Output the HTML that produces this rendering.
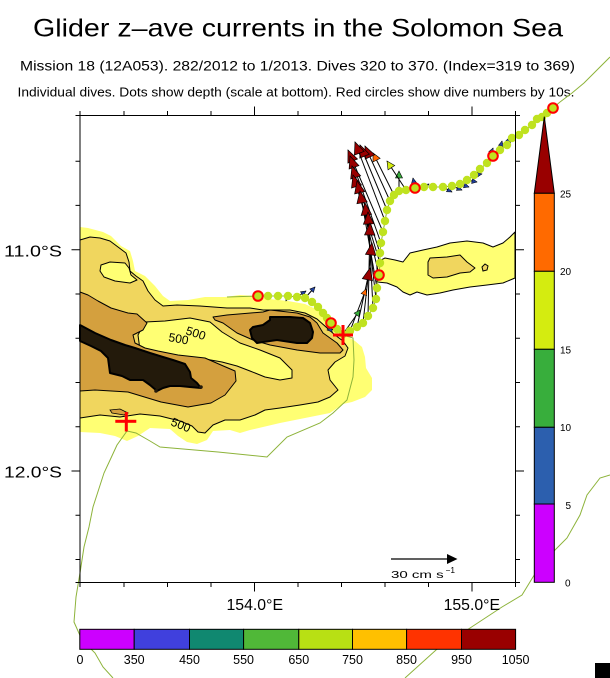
<!DOCTYPE html>
<html><head><meta charset="utf-8"><style>html,body{margin:0;padding:0;background:#fff;}svg{display:block}</style></head>
<body>
<svg width="610" height="678" viewBox="0 0 610 678" xmlns="http://www.w3.org/2000/svg" font-family="'Liberation Sans', sans-serif">
<defs>
<marker id="mdr" markerUnits="userSpaceOnUse" viewBox="-13 -6 14 12" markerWidth="14" markerHeight="12" refX="0" refY="0" orient="auto" overflow="visible"><path d="M0,0L-12,-5.2L-12,5.2Z" fill="#990000" stroke="#000" stroke-width="0.7"/></marker>
<marker id="mor" markerUnits="userSpaceOnUse" viewBox="-10 -5 11 10" markerWidth="11" markerHeight="10" refX="0" refY="0" orient="auto" overflow="visible"><path d="M0,0L-8,-4L-8,4Z" fill="#FF6600" stroke="#000" stroke-width="0.6"/></marker>
<marker id="myl" markerUnits="userSpaceOnUse" viewBox="-10 -5 11 10" markerWidth="11" markerHeight="10" refX="0" refY="0" orient="auto" overflow="visible"><path d="M0,0L-8,-4L-8,4Z" fill="#D4EC10" stroke="#000" stroke-width="0.6"/></marker>
<marker id="mgr" markerUnits="userSpaceOnUse" viewBox="-9 -5 10 10" markerWidth="10" markerHeight="10" refX="0" refY="0" orient="auto" overflow="visible"><path d="M0,0L-7,-3.5L-7,3.5Z" fill="#38AE3C" stroke="#000" stroke-width="0.6"/></marker>
<marker id="mor2" markerUnits="userSpaceOnUse" viewBox="-8 -4 9 8" markerWidth="9" markerHeight="8" refX="0" refY="0" orient="auto" overflow="visible"><path d="M0,0L-6,-3L-6,3Z" fill="#FF6600" stroke="#000" stroke-width="0.5"/></marker>
<marker id="mgr2" markerUnits="userSpaceOnUse" viewBox="-8 -4 9 8" markerWidth="9" markerHeight="8" refX="0" refY="0" orient="auto" overflow="visible"><path d="M0,0L-6,-3L-6,3Z" fill="#38AE3C" stroke="#000" stroke-width="0.5"/></marker>
<marker id="mbl" markerUnits="userSpaceOnUse" viewBox="-7 -4 8 8" markerWidth="8" markerHeight="8" refX="0" refY="0" orient="auto" overflow="visible"><path d="M0,0L-5,-2.5L-5,2.5Z" fill="#2040A0" stroke="#000" stroke-width="0.5"/></marker>
</defs>

<!-- Titles -->
<text x="33" y="36.7" font-size="25" textLength="530" lengthAdjust="spacingAndGlyphs">Glider z–ave currents in the Solomon Sea</text>
<text x="20" y="70.7" font-size="13.5" textLength="555" lengthAdjust="spacingAndGlyphs">Mission 18 (12A053). 282/2012 to 1/2013. Dives 320 to 370. (Index=319 to 369)</text>
<text x="17.5" y="96.7" font-size="12.8" textLength="557" lengthAdjust="spacingAndGlyphs">Individual dives. Dots show depth (scale at bottom). Red circles show dive numbers by 10s.</text>

<!-- Bathymetry -->
<polygon fill="#FFFF73" points="80,227 88,228 103,232 111,236 121,246 130,251 133,261 135,271 145,276 155,286 163,296 170,301 188,300 205,297 225,297 240,295 255,296 270,299 288,301 305,304 318,310 328,318 336,327 345,335 355,341 362,347 365,357 366,368 372,378 372,390 365,397 352,402 343,404 330,413 310,417 280,423 250,430 240,433 230,430 213,431 207,440 197,444 187,442 178,436 170,429 150,428 138,436 127,441 115,436 100,433 80,432"/>
<polygon fill="#F0D65E" stroke="#000" stroke-width="1" stroke-linejoin="round" points="80,240 90,237 100,238 110,241 118,247 126,253 129,262 130,271 136,276 143,281 148,291 155,300 163,306 177,305 200,306 227,308 250,308 263,310 290,310 305,313 317,319 326,327 335,335 343,341 348,348 345,356 335,362 328,370 330,380 338,390 330,397 318,402 300,405 280,408 265,410 255,415 240,420 225,420 213,425 205,433 198,432 192,426 180,421 160,416 140,414 120,417 100,415 80,418"/>
<polygon fill="#FFFF73" stroke="#000" stroke-width="1" stroke-linejoin="round" points="101,265 110,262 125,263 129,268 131,275 137,280 130,283 115,281 104,277 100,271"/>
<polygon fill="#FFFF73" stroke="#000" stroke-width="1" stroke-linejoin="round" points="145,322 165,321 190,318 210,322 222,332 240,343 260,350 280,358 292,370 292,378 280,380 265,377 250,371 237,366 222,362 205,359 180,356 160,353 140,350 138,335"/>
<polygon fill="#D4A03E" stroke="#000" stroke-width="1" stroke-linejoin="round" points="80,292 88,295 98,301 111,308 128,313 137,314 147,323 143,330 133,335 135,343 145,348 158,351 178,355 205,358 221,365 235,371 236,381 225,395 211,403 188,407 161,402 128,392 95,390 80,391"/>
<polygon fill="#D4A03E" stroke="#000" stroke-width="1" stroke-linejoin="round" points="213,317 227,315 263,312 270,310 297,313 310,317 317,323 323,333 337,343 343,350 340,353 320,353 297,350 270,345 253,340 237,333 223,323 215,320"/>
<polygon fill="#D4A03E" stroke="#000" stroke-width="0.8" points="110,410 120,409 128,413 124,415 112,413"/>
<polygon fill="#231A0B" stroke="#000" stroke-width="2" stroke-linejoin="round" points="80,325 95,333 111,340 125,345 135,348 150,353 163,357 173,360 185,364 190,372 191,378 197,383 201,388 190,387 180,386 170,386 163,388 157,391 150,385 143,380 130,380 122,376 110,373 108,358 101,351 91,346 80,341"/>
<circle cx="156" cy="391" r="1.8" fill="#231A0B"/>
<circle cx="201" cy="387" r="1.8" fill="#231A0B"/>
<polygon fill="#231A0B" stroke="#000" stroke-width="2" stroke-linejoin="round" points="250,330 253,327 263,325 270,320 270,317 290,317 303,318 310,323 313,332 312,338 307,343 297,343 277,340 263,342 257,343 252,338"/>
<!-- east blob -->
<polygon fill="#FFFF73" stroke="#000" stroke-width="1" stroke-linejoin="round" points="377,262 385,258 395,260 403,262 410,253 423,250 437,247 450,243 467,241 483,243 493,247 503,243 510,237 515,232 515,278 503,283 487,285 470,287 453,290 440,293 427,295 417,292 410,295 403,292 397,287 387,283 377,282"/>
<polygon fill="#F0D65E" stroke="#000" stroke-width="1" stroke-linejoin="round" points="428,262 430,258 447,257 460,255 467,262 475,268 470,272 460,273 447,277 433,278 428,275"/>
<polygon fill="#F0D65E" stroke="#000" stroke-width="1" points="482,267 485,264 488,266 487,270 483,271"/>

<!-- contour labels -->
<g font-size="12" fill="#000">
<text x="185" y="334" transform="rotate(18 185 334)">500</text>
<text x="168" y="341" transform="rotate(10 168 341)">500</text>
<text x="170" y="425" transform="rotate(22 170 425)">500</text>
</g>

<!-- thin mission track -->
<g fill="none" stroke="#8DB33A" stroke-width="1">
<path d="M610,57L595,72L584,83L572,93L560,102L553,108L547,113L542,117L537,119L532,125L525,130L519,135L512,138L507,145L500,150L493,156L487,163L480,169L474,175L467,180L460,184L452,186L443,187L433,187L424,187L415,188L406,190L399,191L394,195L390,201L387,210L385,221L383,232L381,243L380,253L380,263L379,275L377,288L376,299L373,308L368,316L363,323L357,327L350,331L343,334L337,329L331,323L327,318L323,313L318,307L312,302L305,298L297,297L288,296L278,296L268,296L258,296L227,297"/>
<path d="M343,335L353,338L354,360L353,377L347,400L333,413L320,423L287,437L267,457L218,452L160,447L150,441L136,433L127,431L126,422M127,431L117,445L111,458L104,473L93,507L89,527L84,547L80,573L76,597L74,622L82,640L95,653L103,667L113,678"/>
<path d="M610,475L600,478L587,495L580,515L567,538L555,550L543,562L533,577L522,595L502,607L467,630L436,650L405,678"/>
</g>

<!-- vectors -->
<g stroke="#000" stroke-width="1" fill="none">
<path d="M399,191L399,171" marker-end="url(#mgr)"/>
<path d="M406,190L387,161" marker-end="url(#myl)"/>
<path d="M394,195L373,153" marker-end="url(#mor)"/>
<path d="M390,201L365,146" marker-end="url(#mdr)"/>
<path d="M387,210L360,145" marker-end="url(#mdr)"/>
<path d="M385,221L355,142" marker-end="url(#mdr)"/>
<path d="M383,232L348,150" marker-end="url(#mdr)"/>
<path d="M381,243L350,156" marker-end="url(#mdr)"/>
<path d="M380,253L352,166" marker-end="url(#mdr)"/>
<path d="M380,263L353,175" marker-end="url(#mdr)"/>
<path d="M379,275L357,181" marker-end="url(#mdr)"/>
<path d="M377,288L360,191" marker-end="url(#mdr)"/>
<path d="M376,299L365,203" marker-end="url(#mdr)"/>
<path d="M373,308L368,212" marker-end="url(#mdr)"/>
<path d="M368,316L370,223" marker-end="url(#mdr)"/>
<path d="M363,323L372,243" marker-end="url(#mdr)"/>
<path d="M357,327L370,268" marker-end="url(#mdr)"/>
<path d="M350,331L366,289" marker-end="url(#mor2)"/>
<path d="M343,334L360,310" marker-end="url(#mgr2)"/>
<path d="M337,329L327,330" marker-end="url(#mbl)"/>
<path d="M415,188L413,178" marker-end="url(#mbl)"/>
<path d="M424,187L429,184" marker-end="url(#mbl)"/>
<path d="M443,187L452,192" marker-end="url(#mbl)"/>
<path d="M452,186L462,190" marker-end="url(#mbl)"/>
<path d="M460,184L469,187" marker-end="url(#mbl)"/>
<path d="M467,180L477,182" marker-end="url(#mbl)"/>
<path d="M474,175L482,174" marker-end="url(#mbl)"/>
<path d="M487,163L493,148" marker-end="url(#mbl)"/>
<path d="M500,150L502,141" marker-end="url(#mbl)"/>
<path d="M507,145L510,137" marker-end="url(#mbl)"/>
<path d="M297,297L306,291" marker-end="url(#mbl)"/>
<path d="M305,298L315,287" marker-end="url(#mbl)"/>
<path d="M288,296L286,301" marker-end="url(#mgr2)"/>
</g>

<!-- dots -->
<g fill="#BFE21F">
<circle cx="268" cy="296" r="4.2"/><circle cx="278" cy="296" r="4.2"/><circle cx="288" cy="296" r="4.2"/><circle cx="297" cy="297" r="4.2"/><circle cx="305" cy="298" r="4.2"/><circle cx="312" cy="302" r="4.2"/><circle cx="318" cy="307" r="4.2"/><circle cx="323" cy="313" r="4.2"/><circle cx="327" cy="318" r="4.2"/>
<circle cx="337" cy="329" r="4.2"/><circle cx="343" cy="334" r="4.2"/><circle cx="350" cy="331" r="4.2"/><circle cx="357" cy="327" r="4.2"/><circle cx="363" cy="323" r="4.2"/><circle cx="368" cy="316" r="4.2"/><circle cx="373" cy="308" r="4.2"/><circle cx="376" cy="299" r="4.2"/><circle cx="377" cy="288" r="4.2"/>
<circle cx="380" cy="263" r="4.2"/><circle cx="380" cy="253" r="4.2"/><circle cx="381" cy="243" r="4.2"/><circle cx="383" cy="232" r="4.2"/><circle cx="385" cy="221" r="4.2"/><circle cx="387" cy="210" r="4.2"/><circle cx="390" cy="201" r="4.2"/><circle cx="394" cy="195" r="4.2"/><circle cx="399" cy="191" r="4.2"/><circle cx="406" cy="190" r="4.2"/>
<circle cx="424" cy="187" r="4.2"/><circle cx="433" cy="187" r="4.2"/><circle cx="443" cy="187" r="4.2"/><circle cx="452" cy="186" r="4.2"/><circle cx="460" cy="184" r="4.2"/><circle cx="467" cy="180" r="4.2"/><circle cx="474" cy="175" r="4.2"/><circle cx="480" cy="169" r="4.2"/><circle cx="487" cy="163" r="4.2"/>
<circle cx="500" cy="150" r="4.2"/><circle cx="507" cy="145" r="4.2"/><circle cx="512" cy="138" r="4.2"/><circle cx="519" cy="135" r="4.2"/><circle cx="525" cy="130" r="4.2"/><circle cx="532" cy="125" r="4.2"/><circle cx="537" cy="119" r="4.2"/><circle cx="542" cy="117" r="4.2"/><circle cx="547" cy="113" r="4.2"/>
</g>
<g fill="#BFE21F" stroke="#FF0000" stroke-width="2">
<circle cx="258" cy="296" r="4.8"/><circle cx="331" cy="323" r="4.8"/><circle cx="379" cy="275" r="4.8"/><circle cx="415" cy="188" r="4.8"/><circle cx="493" cy="156" r="4.8"/><circle cx="553" cy="108" r="4.8"/>
</g>

<!-- red crosses -->
<g fill="#FF0000">
<rect x="333" y="333.5" width="20" height="3"/><rect x="341.5" y="325" width="3" height="20"/>
<rect x="115.3" y="419.8" width="21" height="3"/><rect x="124.8" y="412" width="3" height="19.5"/>
</g>

<!-- reference arrow -->
<line x1="391" y1="559" x2="449" y2="559" stroke="#000" stroke-width="1.2"/>
<polygon points="447,554 457.5,559 447,564" fill="#000"/>
<text x="391" y="578" font-size="10.5" textLength="52.6" lengthAdjust="spacingAndGlyphs">30 cm s</text>
<text x="445.5" y="573" font-size="8" textLength="9.5" lengthAdjust="spacingAndGlyphs">−1</text>

<!-- frame & ticks -->
<rect x="80" y="115.5" width="435.5" height="467" fill="none" stroke="#000" stroke-width="1"/>
<path stroke="#000" stroke-width="1" fill="none" d="M80,115.5V111M124,115.5V111M167.5,115.5V111M211,115.5V111M254.5,115.5V106.5M298,115.5V111M341.5,115.5V111M385,115.5V111M428.5,115.5V111M472,115.5V106.5M515.5,115.5V111
M80,582.5V587M124,582.5V587M167.5,582.5V587M211,582.5V587M254.5,582.5V591.5M298,582.5V587M341.5,582.5V587M385,582.5V587M428.5,582.5V587M472,582.5V591.5M515.5,582.5V587
M80,115.5H75.5M80,161.2H75.5M80,205.4H75.5M80,249.7H71.5M80,294H75.5M80,338.2H75.5M80,382.5H75.5M80,426.7H75.5M80,471H71.5M80,515.3H75.5M80,559.5H75.5M80,582.5H75.5
M515.5,115.5H520M515.5,161.2H520M515.5,205.4H520M515.5,249.7H524M515.5,294H520M515.5,338.2H520M515.5,382.5H520M515.5,426.7H520M515.5,471H524M515.5,515.3H520M515.5,559.5H520M515.5,582.5H520"/>

<!-- axis labels -->
<g font-size="16" fill="#000">
<text x="4" y="256.5" textLength="58" lengthAdjust="spacingAndGlyphs">11.0°S</text>
<text x="4" y="477.5" textLength="58" lengthAdjust="spacingAndGlyphs">12.0°S</text>
<text x="226.5" y="610" textLength="56.5" lengthAdjust="spacingAndGlyphs">154.0°E</text>
<text x="443.6" y="610" textLength="56.4" lengthAdjust="spacingAndGlyphs">155.0°E</text>
</g>

<!-- right colorbar -->
<g stroke="#000" stroke-width="1">
<polygon points="544.3,116.7 554.3,193.3 534.3,193.3" fill="#990000"/>
<rect x="534.3" y="193.3" width="20" height="78" fill="#FF6A00"/>
<rect x="534.3" y="271.3" width="20" height="78" fill="#D4EC10"/>
<rect x="534.3" y="349.3" width="20" height="78" fill="#38AE3C"/>
<rect x="534.3" y="427.3" width="20" height="76.7" fill="#2C5FAE"/>
<rect x="534.3" y="504" width="20" height="78.3" fill="#CC00FF"/>
</g>
<g font-size="10" fill="#000">
<text x="560" y="197.7">25</text>
<text x="560" y="275">20</text>
<text x="560" y="353.3">15</text>
<text x="560" y="431">10</text>
<text x="565.5" y="509">5</text>
<text x="565" y="586.7">0</text>
</g>

<!-- bottom colorbar -->
<g stroke="#000" stroke-width="1">
<rect x="79.8" y="629.3" width="54.4" height="20" fill="#CC00FF"/>
<rect x="134.2" y="629.3" width="55.3" height="20" fill="#4040DD"/>
<rect x="189.5" y="629.3" width="54.1" height="20" fill="#108870"/>
<rect x="243.6" y="629.3" width="55.2" height="20" fill="#50B838"/>
<rect x="298.8" y="629.3" width="53.7" height="20" fill="#B8E014"/>
<rect x="352.5" y="629.3" width="54.1" height="20" fill="#FFC000"/>
<rect x="406.6" y="629.3" width="54.9" height="20" fill="#FF3300"/>
<rect x="461.5" y="629.3" width="54.1" height="20" fill="#990000"/>
</g>
<g font-size="12.5" fill="#000" text-anchor="middle">
<text x="80" y="664">0</text>
<text x="134.2" y="664">350</text>
<text x="189.5" y="664">450</text>
<text x="243.6" y="664">550</text>
<text x="298.8" y="664">650</text>
<text x="352.5" y="664">750</text>
<text x="406.6" y="664">850</text>
<text x="461.5" y="664">950</text>
<text x="515.6" y="664">1050</text>
</g>

<rect x="595" y="663" width="15" height="15" fill="#000"/>
</svg>
</body></html>
